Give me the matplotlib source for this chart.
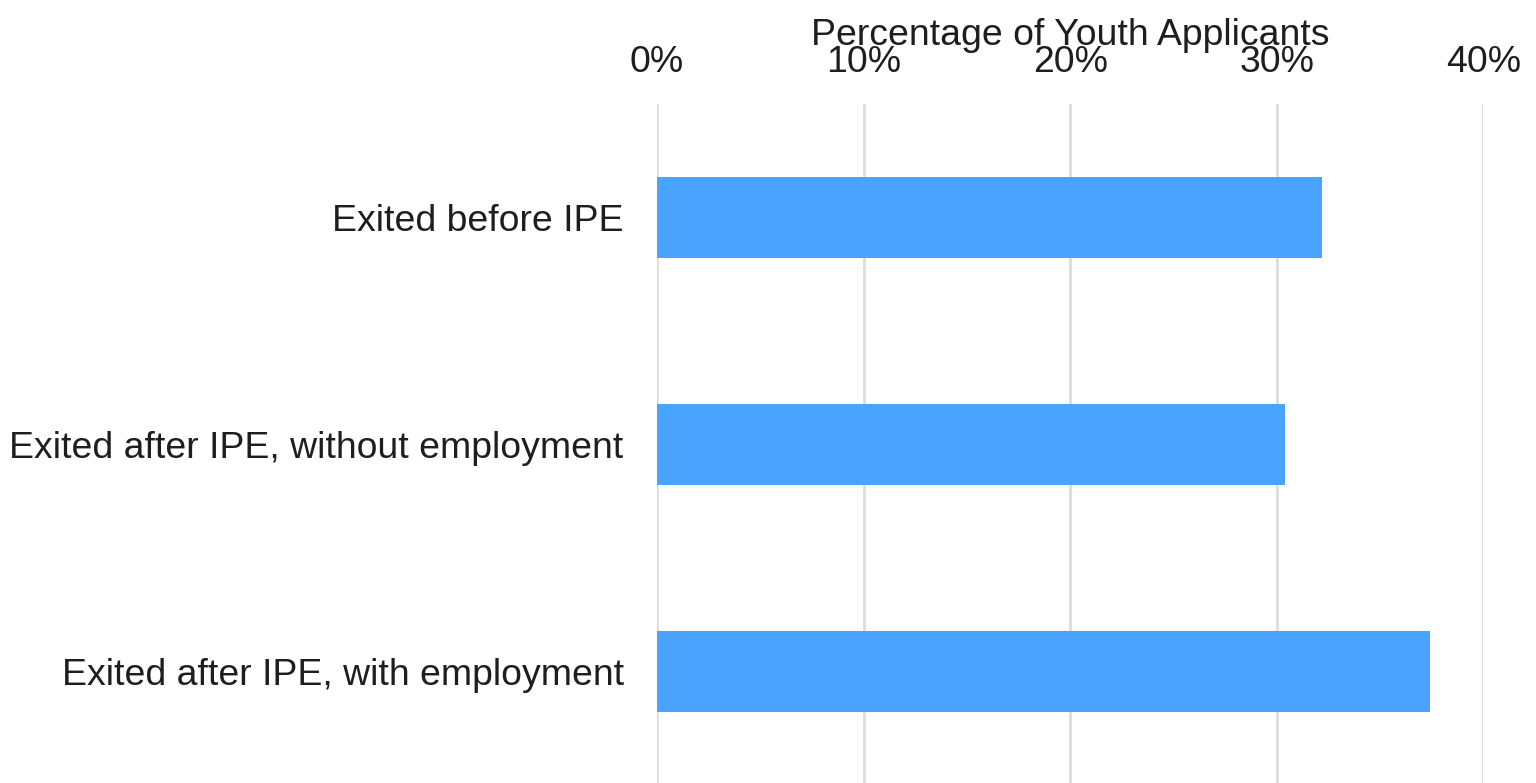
import matplotlib
matplotlib.use("Agg")
import matplotlib.pyplot as plt
from matplotlib.ticker import FuncFormatter

categories = ["Exited before IPE", "Exited after IPE, without employment", "Exited after IPE, with employment"]
values = [32.2, 30.4, 37.4]
xticks = [0, 10, 20, 30, 40]
xlabel = "Percentage of Youth Applicants"

plt.rcParams['font.family'] = ['Liberation Sans', 'DejaVu Sans']

W, H = 1536, 783
FS = 26.9
fig = plt.figure(figsize=(W / 100, H / 100), dpi=100)
ax = fig.add_axes([657 / W, -2 / H, (1483.3 - 657) / W, (785 - 104) / H])

ypos = list(range(len(categories)))
ax.barh(ypos, values, height=0.354, color="#4AA3FF", zorder=2)
ax.set_ylim(2.5, -0.5)
ax.set_xlim(0, 40)
ax.set_yticks(ypos)
ax.set_yticklabels(categories, fontsize=FS, color="#1E1E1E")
ax.set_xticks(xticks)
ax.xaxis.set_major_formatter(FuncFormatter(lambda v, p: f"{v:.0f}%"))
ax.xaxis.tick_top()
ax.xaxis.set_label_position("top")
ax.set_xlabel(xlabel, fontsize=FS, color="#1E1E1E", labelpad=0)
ax.tick_params(axis="x", length=0, pad=17, labelsize=FS, labelcolor="#1E1E1E")
ax.tick_params(axis="y", length=0, pad=24)
ax.grid(axis="x", color="#DDDDDD", linewidth=2)
ax.grid(axis="y", visible=False)
ax.set_axisbelow(True)
for s in ax.spines.values():
    s.set_visible(False)

fig.savefig("out.png", dpi=100)
